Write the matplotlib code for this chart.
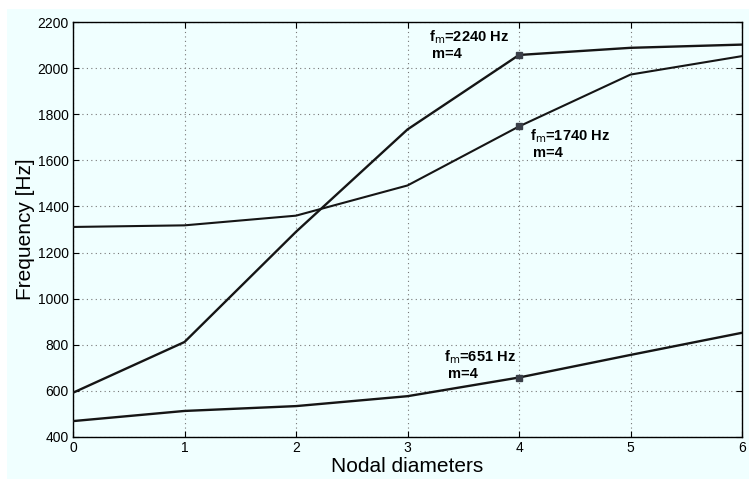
import matplotlib
matplotlib.use('Agg')
import matplotlib.pyplot as plt
from matplotlib.patches import Rectangle


##----- data
nodal = [0, 1, 2, 3, 4, 5, 6]
f_upper  = [592, 812, 1290, 1734, 2057, 2088, 2102]
f_middle = [1311, 1318, 1360, 1491, 1747, 1972, 2052]
f_lower  = [469, 513, 534, 577, 658, 756, 852]

mark_nd = 4
freq_labels = [r'f$_{\rm m}$=2240 Hz', r'f$_{\rm m}$=1740 Hz', r'f$_{\rm m}$=651 Hz']
mode_label = 'm=4'
# (x, y) of the first text line, data coords
label_xy = [(3.19, 2136), (4.10, 1705), (3.33, 745)]

yticks = [400, 600, 800, 1000, 1200, 1400, 1600, 1800, 2000, 2200]


##----- figure
W, H = 749, 479
fig = plt.figure(figsize=(W / 100, H / 100), dpi=100, facecolor='white')
fig.patches.append(Rectangle((7 / W, 0), 1, 1 - 9 / H, transform=fig.transFigure,
                             facecolor='#f0ffff', edgecolor='none', zorder=-10))

ax = fig.add_axes([73 / W, 1 - 437 / H, (742 - 73) / W, (437 - 22) / H])
ax.set_facecolor('#f0ffff')

lc = '#151515'
ax.plot(nodal, f_upper, color=lc, lw=1.7, zorder=3)
ax.plot(nodal, f_middle, color=lc, lw=1.5, zorder=3)
ax.plot(nodal, f_lower, color=lc, lw=1.7, zorder=3)

i = nodal.index(mark_nd)
for ser in (f_upper, f_middle, f_lower):
    ax.plot(nodal[i], ser[i], 's', ms=5, color='#3a3f48', zorder=4)

# one px in data units on y
dy = (2200 - 400) / (437 - 22)
for txt, (tx, ty) in zip(freq_labels, label_xy):
    ax.text(tx, ty, txt, fontsize=10.5, fontweight='bold', family='Liberation Sans',
            va='center', ha='left', zorder=5)
    ax.text(tx + 0.03, ty - 17 * dy, mode_label, fontsize=10.5, fontweight='bold',
            family='Liberation Sans', va='center', ha='left', zorder=5)

ax.set_xlim(0, 6)
ax.set_ylim(400, 2200)
ax.set_xticks(nodal)
ax.set_yticks(yticks)
ax.grid(True, color='#777777', linestyle=(0, (1, 3)), lw=0.8)
ax.tick_params(direction='in', length=4, top=True, right=True,
               labelsize=10, colors='black', pad=3)
for lab in ax.get_xticklabels() + ax.get_yticklabels():
    lab.set_family('Liberation Sans')
for s in ax.spines.values():
    s.set_linewidth(1.0)
    s.set_color('black')

ax.set_xlabel('Nodal diameters', fontsize=15, family='Liberation Sans', labelpad=1)
ax.set_ylabel('Frequency [Hz]', fontsize=15, family='Liberation Sans', labelpad=2)

fig.savefig('out.png', dpi=100, facecolor=fig.get_facecolor())
